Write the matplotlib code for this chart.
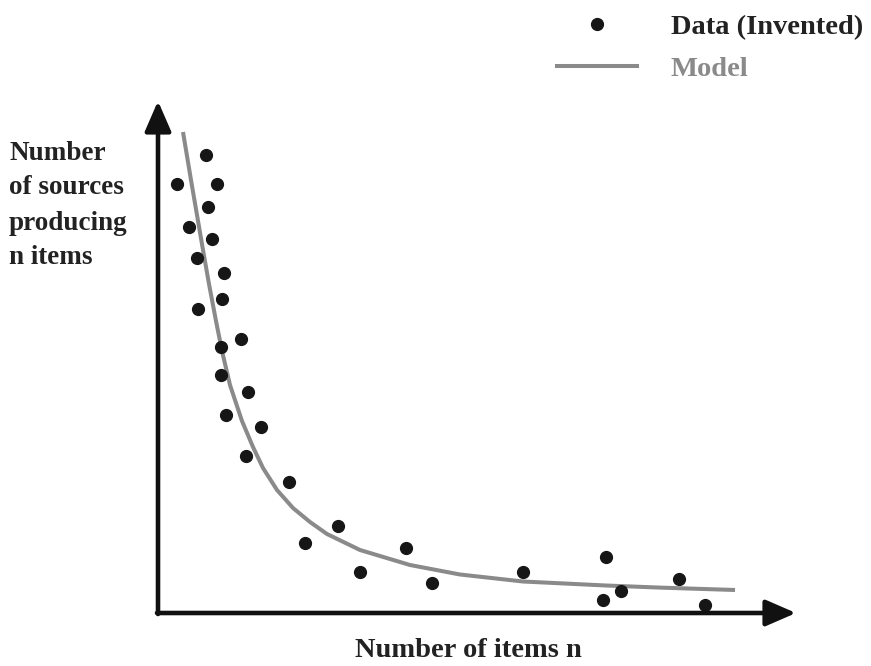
import numpy as np
import matplotlib.pyplot as plt
from matplotlib.lines import Line2D

# data (origin at the axes corner, arbitrary units)
n_items = [20, 49, 60, 51, 32, 55, 40, 67, 65, 41, 84, 64, 64, 91, 69, 104,
           89, 132, 148, 181, 203, 249, 275, 366, 449, 446, 464, 522, 548]
n_sources = [429, 458, 429, 406, 386, 374, 355, 340, 314, 304, 274, 266, 238,
             221, 198, 186, 157, 131, 70, 87, 41, 65, 30, 41, 56, 13, 22, 34, 8]

model_x = [26, 35, 40, 46, 52, 59, 65, 73, 85, 96, 106, 120, 136, 153, 170,
           203, 253, 303, 366, 449, 503, 578]
model_y = [481, 427, 398, 363, 329, 292, 262, 228, 192, 166, 145, 123, 105,
           91, 79, 63, 48, 38.5, 31.5, 27.5, 25.4, 23]

y_label = ['Number', 'of sources', 'producing', 'n items']
x_label = 'Number of items n'

plt.rcParams['font.family'] = ['Liberation Serif', 'DejaVu Serif']
plt.rcParams['font.weight'] = 'bold'

W, H = 871, 666
X0, Y0 = 157, 613  # pixel position of the origin

fig = plt.figure(figsize=(W / 100, H / 100), dpi=100)
ax = fig.add_axes([0, 0, 1, 1])
ax.set_xlim(-X0, W - X0)
ax.set_ylim(Y0 - H, Y0)
ax.axis('off')

def px(x, y):
    # pixel -> data coords
    return x - X0, Y0 - y

# axes arrows
arrow = dict(arrowstyle='-|>,head_length=1.15,head_width=0.5', color='#111111',
             lw=3.3, shrinkA=0, shrinkB=0, mutation_scale=16)
ax.annotate('', xy=px(158, 101), xytext=px(158, 614), arrowprops=arrow)
ax.annotate('', xy=px(796, 613), xytext=px(157, 613), arrowprops=arrow)

ax.plot(model_x, model_y, color='#8a8a8a', lw=2.9, solid_capstyle='butt',
        solid_joinstyle='round', label='Model')
ax.plot(n_items, n_sources, 'o', color='#161616', ms=8.5, ls='none',
        label='Data (Invented)')

# y axis label, one line at a time
for i, line in enumerate(y_label):
    ax.text(*px(9, 153 + i * 35), line, fontsize=19.5, color='#222222',
            ha='left', va='center')

ax.text(*px(468, 663), x_label, fontsize=20.5, color='#222222',
        ha='center', va='bottom')

handles = [Line2D([], [], marker='o', ls='none', color='#161616', ms=8.5),
           Line2D([], [], color='#8a8a8a', lw=2.9)]
leg = ax.legend(handles, ['Data (Invented)', 'Model'], loc='upper left',
                bbox_to_anchor=(557 / W, 1 - 14 / H), bbox_transform=fig.transFigure,
                frameon=False, fontsize=20.5, handlelength=2.8,
                handletextpad=1.2, labelspacing=0.58, borderpad=0,
                borderaxespad=0)
leg.get_texts()[0].set_color('#222222')
leg.get_texts()[1].set_color('#8a8a8a')

fig.savefig('out.png', dpi=100)
